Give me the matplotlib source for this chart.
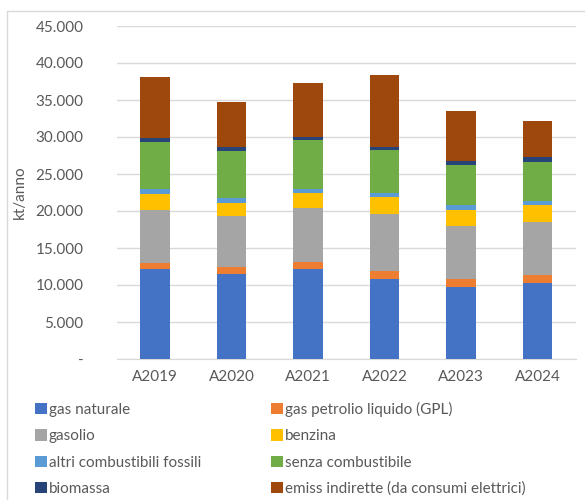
import numpy as np
import matplotlib.pyplot as plt
from matplotlib.ticker import FuncFormatter, MultipleLocator
from matplotlib.patches import Rectangle

plt.rcParams['font.family'] = ['Lato', 'DejaVu Sans']

anni = ["A2019", "A2020", "A2021", "A2022", "A2023", "A2024"]

# emissioni per vettore energetico, kt/anno
gas_naturale = [12120, 11530, 12200, 10850, 9730, 10310]
gpl = [810, 860, 900, 1040, 1040, 1040]
gasolio = [7200, 6970, 7340, 7700, 7160, 7200]
benzina = [2120, 1760, 2030, 2300, 2200, 2300]
altri_fossili = [680, 590, 540, 580, 630, 450]
senza_combustibile = [6390, 6430, 6530, 5810, 5410, 5310]
biomassa = [580, 460, 450, 400, 580, 640]
emiss_indirette = [8160, 6080, 7260, 9650, 6710, 4860]

serie = [
    ("gas naturale", gas_naturale, "#4472C4"),
    ("gas petrolio liquido (GPL)", gpl, "#ED7D31"),
    ("gasolio", gasolio, "#A5A5A5"),
    ("benzina", benzina, "#FFC000"),
    ("altri combustibili fossili", altri_fossili, "#5B9BD5"),
    ("senza combustibile", senza_combustibile, "#70AD47"),
    ("biomassa", biomassa, "#264478"),
    ("emiss indirette (da consumi elettrici)", emiss_indirette, "#9E480E"),
]

grigio = "#595959"

fig = plt.figure(figsize=(5.85, 5.0), dpi=100)
ax = fig.add_axes([0.1996, 0.282, 0.7846, 0.666])

x = np.arange(len(anni))
base = np.zeros(len(anni))
handles = {}
for nome, valori, colore in serie:
    b = ax.bar(x, valori, 0.39, bottom=base, color=colore, label=nome, zorder=3)
    handles[nome] = b
    base += np.array(valori)

ax.set_xlim(-0.5, len(anni) - 0.5)
ax.set_ylim(0, 45000)
ax.yaxis.set_major_locator(MultipleLocator(5000))
ax.yaxis.set_major_formatter(FuncFormatter(
    lambda v, p: "-" if v == 0 else f"{int(v):,}".replace(",", ".")))
ax.set_xticks(x)
ax.set_xticklabels(anni)
ax.grid(axis="y", color="#D9D9D9", linewidth=1, zorder=0)
for s in ["top", "right", "left"]:
    ax.spines[s].set_visible(False)
ax.spines["bottom"].set_color("#D9D9D9")
ax.tick_params(axis="both", length=0, labelsize=11, colors=grigio)
ax.tick_params(axis="y", pad=24)
ax.tick_params(axis="x", pad=8)
ax.set_ylabel("kt/anno", fontsize=11, color=grigio, labelpad=6)

# legenda su due colonne, ordinata per righe
ordine = [0, 2, 4, 6, 1, 3, 5, 7]
h = [handles[serie[i][0]] for i in ordine]
l = [serie[i][0] for i in ordine]
leg = fig.legend(h, l, ncol=2, loc="upper left", bbox_to_anchor=(0.06, 0.196),
                 frameon=False, fontsize=11, handlelength=0.75, handleheight=0.75,
                 handletextpad=0.15, columnspacing=4.6, labelspacing=0.8,
                 borderaxespad=0, borderpad=0)
for t in leg.get_texts():
    t.set_color(grigio)

# cornice del grafico
fig.patches.append(Rectangle((7 / 585, -0.05), 1.1, 1 - 11 / 500 + 0.05,
                             transform=fig.transFigure, fill=False,
                             edgecolor="#D9D9D9", linewidth=1))

fig.savefig("out.png", dpi=100)
